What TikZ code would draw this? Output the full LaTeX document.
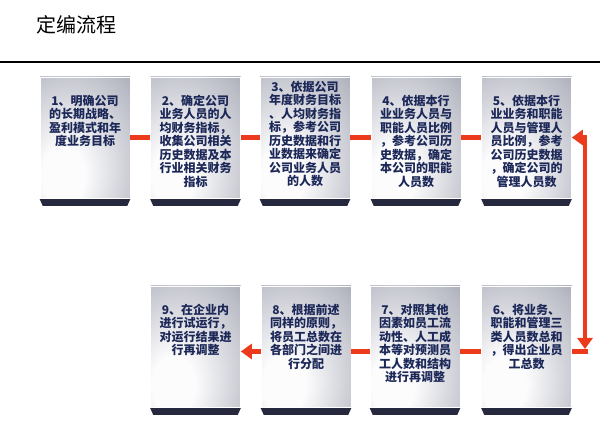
\documentclass[tikz,border=0pt]{standalone}
\usepackage{fontspec}
\setmainfont{Noto Sans CJK SC}
\usetikzlibrary{arrows.meta}
\definecolor{bedge}{RGB}{112,114,134}
\definecolor{bdark}{RGB}{95,97,118}
\definecolor{bmid}{RGB}{186,188,198}
\definecolor{bwhite}{RGB}{252,252,253}
\definecolor{navy}{RGB}{28,40,88}
\definecolor{basec}{RGB}{38,40,62}
\definecolor{redc}{RGB}{236,58,28}
\pgfdeclareradialshading{boxshade}{\pgfpoint{-14bp}{-18bp}}{color(0bp)=(bwhite); color(12bp)=(bwhite); color(42bp)=(bmid); color(72bp)=(bedge); color(100bp)=(bdark)}
\tikzset{
  box/.style={shading=boxshade, minimum width=90pt, minimum height=121pt, inner sep=0pt, draw=white, line width=0.6pt},
  txt/.style={anchor=north, inner sep=0pt, align=center, text=navy, font=\bfseries\fontsize{12}{13.5}\selectfont},
  redl/.style={draw=redc, line width=4.5pt},
  tip/.style={-{Triangle[length=11pt,width=15pt]}},
  title/.style={anchor=west, inner sep=0pt, font=\fontsize{20}{24}\selectfont}
}
\begin{document}
\begin{tikzpicture}[x=1pt,y=-1pt]
\useasboundingbox[fill=white] (0,0) rectangle (600,430);
\node[title] (title) at (36,25) {定编流程};
\coordinate (l1) at (0,62);
\coordinate (l2) at (600,62);
\draw[line width=2.5pt] (l1) -- (l2);
% boxes
\node[box] (b1) at (85,137.5) {};
\node[box] (b2) at (195.5,137.5) {};
\node[box] (b3) at (305,137.5) {};
\node[box] (b4) at (416,137.5) {};
\node[box] (b5) at (526.5,137.5) {};
\node[box] (b9) at (195.5,346.5) {};
\node[box] (b8) at (306,346.5) {};
\node[box] (b7) at (415,346.5) {};
\node[box] (b6) at (526.5,346.5) {};
\foreach \n in {1,...,9}{
  \fill[basec] ([yshift=-0.8pt]b\n.south west) -- ([yshift=-0.8pt]b\n.south east) -- ([xshift=-3pt,yshift=-7.5pt]b\n.south east) -- ([xshift=3pt,yshift=-7.5pt]b\n.south west) -- cycle;
}
% texts
\node[txt] (t1) at ([yshift=-18pt]b1.north) {1、明确公司\\的长期战略、\\盈利模式和年\\度业务目标};
\node[txt] (t2) at ([yshift=-18pt]b2.north) {2、确定公司\\业务人员的人\\均财务指标，\\收集公司相关\\历史数据及本\\行业相关财务\\指标};
\node[txt] (t3) at ([yshift=-4pt]b3.north) {3、依据公司\\年度财务目标\\、人均财务指\\标，参考公司\\历史数据和行\\业数据来确定\\公司业务人员\\的人数};
\node[txt] (t4) at ([yshift=-18pt]b4.north) {4、依据本行\\业业务人员与\\职能人员比例\\，参考公司历\\史数据，确定\\本公司的职能\\人员数};
\node[txt] (t5) at ([yshift=-18pt]b5.north) {5、依据本行\\业业务和职能\\人员与管理人\\员比例，参考\\公司历史数据\\，确定公司的\\管理人员数};
\node[txt] (t6) at ([yshift=-18pt]b6.north) {6、将业务、\\职能和管理三\\类人员数总和\\，得出企业员\\工总数};
\node[txt] (t7) at ([yshift=-18pt]b7.north) {7、对照其他\\因素如员工流\\动性、人工成\\本等对预测员\\工人数和结构\\进行再调整};
\node[txt] (t8) at ([yshift=-18pt]b8.north) {8、根据前述\\同样的原则，\\将员工总数在\\各部门之间进\\行分配};
\node[txt] (t9) at ([yshift=-18pt]b9.north) {9、在企业内\\进行试运行，\\对运行结果进\\行再调整};
% connectors
\draw[redl] (b1) -- (b2);
\draw[redl] (b2) -- (b3);
\draw[redl] (b3) -- (b4);
\draw[redl] (b4) -- (b5);
\coordinate (c1) at (585,137.5);
\coordinate (c2) at (585,349);
\coordinate (c3) at (587.5,351.5);
\draw[redl, {Triangle[length=11pt,width=15pt]}-{Triangle[length=11pt,width=15pt]}] (b5.east) -- (c1) -- (c2);
\draw[redl] ([yshift=-5pt]b6.east) -- (c3);
\draw[redl] ([yshift=-5pt]b7.east) -- ([yshift=-5pt]b6.west);
\draw[redl] ([yshift=-5pt]b8.east) -- ([yshift=-5pt]b7.west);
\draw[redl, tip] ([yshift=-5pt]b8.west) -- ([yshift=-5pt]b9.east);
\end{tikzpicture}
\end{document}
